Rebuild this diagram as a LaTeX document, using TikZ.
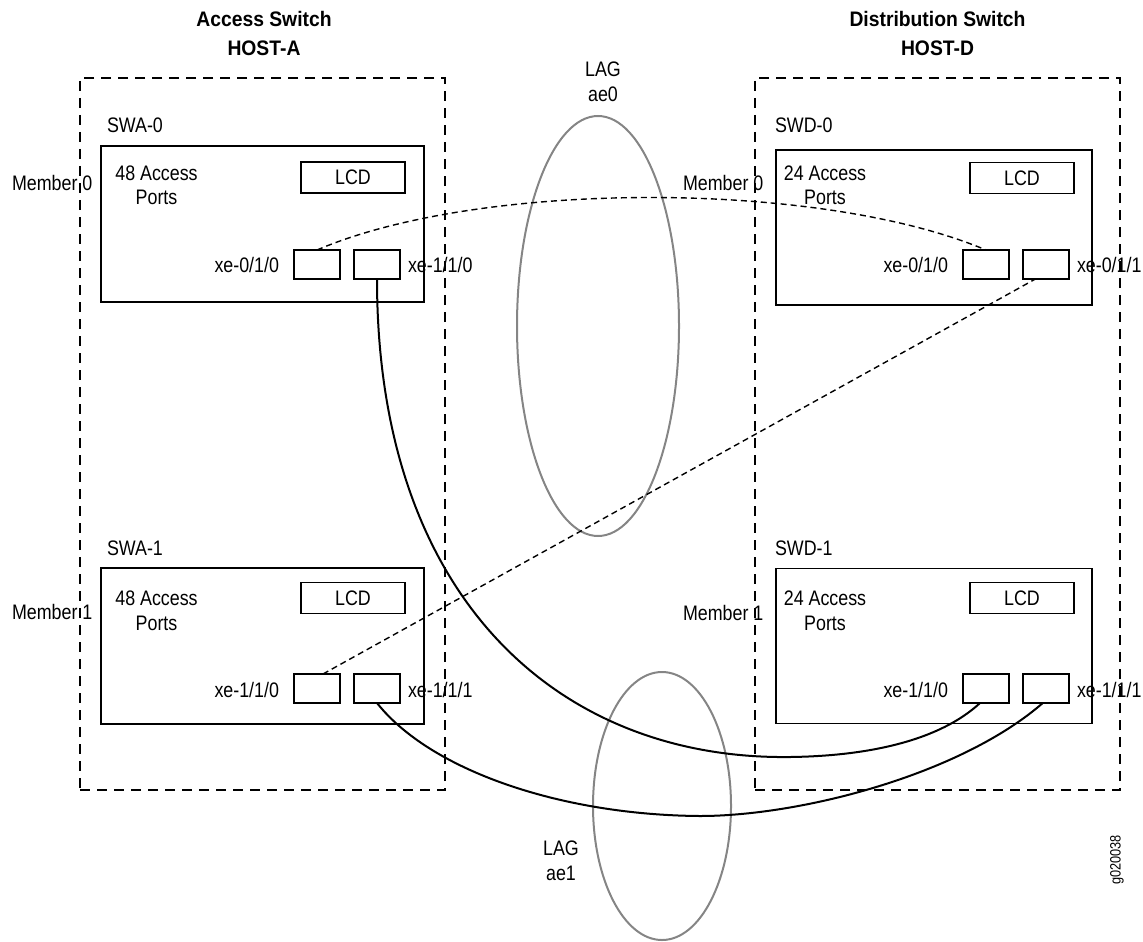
\documentclass[tikz,border=0pt]{standalone}
\usepackage{fontspec}
\setmainfont{Liberation Sans}[FakeStretch=0.85]
\newfontfamily\titlefont{Liberation Sans}[FakeStretch=0.92]
\usetikzlibrary{shapes.geometric,calc}
\begin{document}
\begin{tikzpicture}[x=0.5pt,y=-0.5pt,
  every node/.style={inner sep=0pt,outer sep=0pt,font=\fontsize{10.5}{12.5}\selectfont},
  hostbox/.style={draw,dash pattern=on 5pt off 3.5pt,line width=0.7pt,minimum width=182.5pt,minimum height=356pt},
  swbox/.style={draw,line width=0.9pt,minimum width=161.5pt,minimum height=78pt},
  swboxd/.style={draw,line width=0.9pt,minimum width=158pt,minimum height=77.5pt},
  lcdbox/.style={draw,line width=0.9pt,minimum width=52pt,minimum height=15.5pt},
  portbox/.style={draw,line width=0.9pt,minimum width=23pt,minimum height=14.5pt},
  lag/.style={draw=black!48,ellipse,line width=1pt},
  lbl/.style={align=center},
  ttl/.style={align=center,font=\titlefont\bfseries\fontsize{10.5}{14.5}\selectfont},
  cable/.style={line width=1pt},
  dcable/.style={line width=0.7pt,dash pattern=on 3pt off 2pt}]
\useasboundingbox (0,0) rectangle (1143,941);

% host boxes
\node[hostbox] (hostA) at (262.5,434) {};
\node[hostbox] (hostD) at (937.5,434) {};
\node[ttl,anchor=base] (tA) at (264,56) {Access Switch\\HOST-A};
\node[ttl,anchor=base] (tD) at (937.5,56) {Distribution Switch\\HOST-D};

% LAG ellipses
\node[lag,minimum width=81pt,minimum height=210pt] (ae0) at (598,326) {};
\node[lag,minimum width=69pt,minimum height=134pt] (ae1) at (662,806) {};
\node[lbl,anchor=base] (ae0l) at (603,102) {LAG\\ae0};
\node[lbl,anchor=base] (ae1l) at (561,880) {LAG\\ae1};

% SWA-0
\node[anchor=base west] (swa0l) at (107,133) {SWA-0};
\node[swbox] (swa0) at (262.5,224) {};
\node[anchor=base west] (m0a) at (12,191) {Member 0};
\node[lbl,anchor=base] (swa0p) at (156.5,205) {48 Access\\Ports};
\node[lcdbox] (lcdA0) at (353,177.5) {LCD};
\node[portbox] (pA0a) at (317,264.5) {};
\node[portbox] (pA0b) at (377,264.5) {};
\node[anchor=base east] (xA0a) at (279,272) {xe-0/1/0};
\node[anchor=base west] (xA0b) at (408,272) {xe-1/1/0};

% SWA-1
\node[anchor=base west] (swa1l) at (107,555) {SWA-1};
\node[swbox] (swa1) at (262.5,646) {};
\node[anchor=base west] (m1a) at (12,619) {Member 1};
\node[lbl,anchor=base] (swa1p) at (156.5,630) {48 Access\\Ports};
\node[lcdbox] (lcdA1) at (353,598) {LCD};
\node[portbox] (pA1a) at (317,688.5) {};
\node[portbox] (pA1b) at (377,688.5) {};
\node[anchor=base east] (xA1a) at (279,697) {xe-1/1/0};
\node[anchor=base west] (xA1b) at (408,697) {xe-1/1/1};

% SWD-0
\node[anchor=base west] (swd0l) at (775,133) {SWD-0};
\node[swboxd] (swd0) at (934,227.5) {};
\node[anchor=base west] (m0d) at (683,191) {Member 0};
\node[lbl,anchor=base] (swd0p) at (825,205) {24 Access\\Ports};
\node[lcdbox] (lcdD0) at (1022,178) {LCD};
\node[portbox] (pD0a) at (986,264.5) {};
\node[portbox] (pD0b) at (1046,264.5) {};
\node[anchor=base east] (xD0a) at (948,272) {xe-0/1/0};
\node[anchor=base west] (xD0b) at (1077,272) {xe-0/1/1};

% SWD-1
\node[anchor=base west] (swd1l) at (775,555) {SWD-1};
\node[swboxd] (swd1) at (934,646) {};
\node[anchor=base west] (m1d) at (683,620) {Member 1};
\node[lbl,anchor=base] (swd1p) at (825,630) {24 Access\\Ports};
\node[lcdbox] (lcdD1) at (1022,598) {LCD};
\node[portbox] (pD1a) at (986,688.5) {};
\node[portbox] (pD1b) at (1046,688.5) {};
\node[anchor=base east] (xD1a) at (948,697) {xe-1/1/0};
\node[anchor=base west] (xD1b) at (1077,697) {xe-1/1/1};

% figure id
\node[rotate=90,font=\fontsize{7.5}{9}\selectfont] (gid) at (1117,860) {g020038};

% connectors
\draw[dcable] (pA0a.north) .. controls (480,180) and (820,180) .. (pD0a.north);
\draw[dcable] ($(pA1a.north west)!0.63!(pA1a.north east)$) -- ($(pD0b.south west)!0.27!(pD0b.south east)$);
\coordinate (c1) at (790,757);
\draw[cable] (pA0b.south) .. controls (377,600) and (560,760) .. (c1)
  .. controls (870,756) and (940,740) .. ($(pD1a.south west)!0.37!(pD1a.south east)$);
\coordinate (c2) at (700,816);
\draw[cable] (pA1b.south) .. controls (430,770) and (560,815) .. (c2)
  .. controls (800,816) and (960,775) .. ($(pD1b.south west)!0.43!(pD1b.south east)$);
\end{tikzpicture}
\end{document}
